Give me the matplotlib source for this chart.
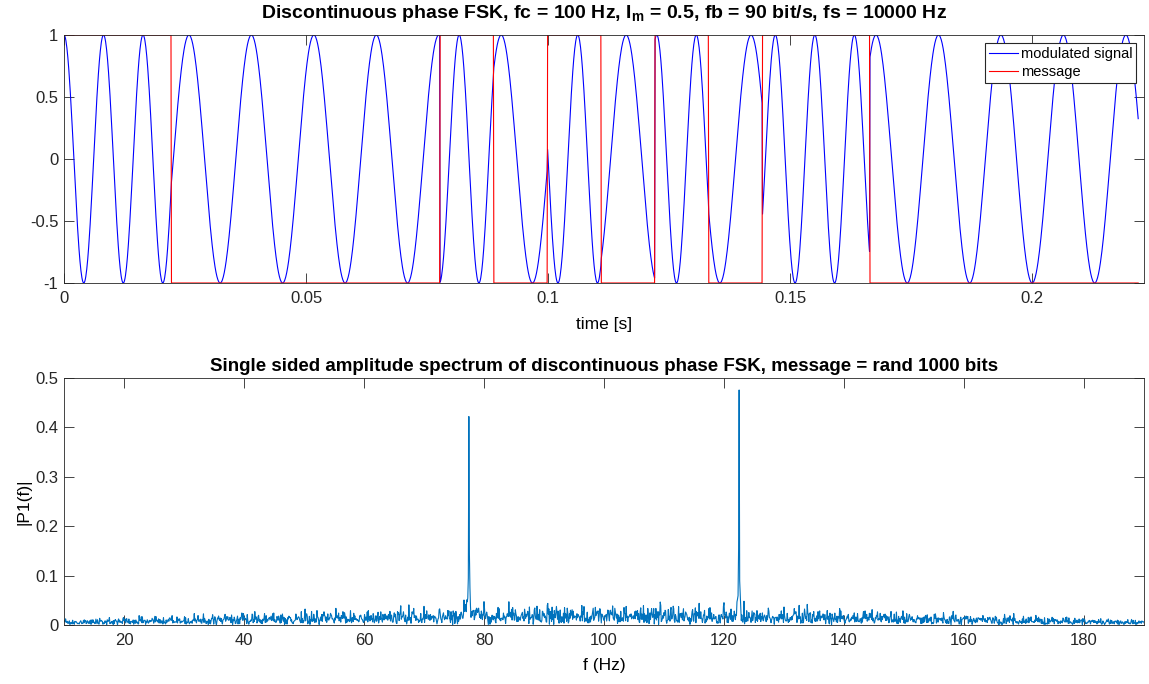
import numpy as np
import matplotlib
matplotlib.use('Agg')
import matplotlib.pyplot as plt
from matplotlib.ticker import FuncFormatter

# parameters read from the titles
fc = 100
Im = 0.5
fb = 90
fs = 10000
n_bits = 1000
spb = 111  # samples per bit

# first 20 bits of the message (visible in the top plot)
shown_bits = [1, 1, 0, 0, 0, 0, 0, 1, 0, 1, 0, 1, 0, 1, 1, 0, 0, 0, 0, 0]

# the rest of the 1000 bit message: a 16 bit lfsr pattern (deterministic),
# seed picked so the two spectrum peaks come out at ~0.42 and ~0.475
lfsr_seed = 334

def lfsr_bits(n, state):
    out = []
    for i in range(n):
        bit = ((state >> 0) ^ (state >> 2) ^ (state >> 3) ^ (state >> 5)) & 1
        state = (state >> 1) | (bit << 15)
        out.append(state & 1)
    return out

message = np.array(shown_bits + lfsr_bits(n_bits - len(shown_bits), lfsr_seed))

df = Im * fb / 2
f_hi = fc + df
f_lo = fc - df

# discontinuous phase fsk, every bit uses the absolute time
L = n_bits * spb
n = np.arange(L)
t = n / fs
m = message[n // spb]
freq = np.where(m == 1, f_hi, f_lo)
x = np.cos(2 * np.pi * freq * t)

# single sided amplitude spectrum
Y = np.fft.fft(x)
P2 = np.abs(Y / L)
P1 = P2[:L // 2 + 1].copy()
P1[1:-1] = 2 * P1[1:-1]
f = fs * np.arange(L // 2 + 1) / L

plt.rcParams['font.family'] = ['Liberation Sans', 'DejaVu Sans']
plt.rcParams['mathtext.fontset'] = 'custom'
plt.rcParams['mathtext.rm'] = 'Liberation Sans'
plt.rcParams['mathtext.bf'] = 'Liberation Sans:bold'

fig = plt.figure(figsize=(11.49, 6.84), dpi=100)
ax1 = fig.add_axes([64 / 1149, 1 - 283 / 684, 1080 / 1149, 248 / 684])
ax2 = fig.add_axes([64 / 1149, 1 - 625 / 684, 1080 / 1149, 247 / 684])

plain = FuncFormatter(lambda v, p: ('%g' % v).replace('\u2212', '-'))

n_show = n < len(shown_bits) * spb
ax1.plot(t[n_show], x[n_show], color='blue', lw=0.8, label='modulated signal')
ax1.plot(t[n_show], 2 * m[n_show] - 1, color='red', lw=0.8, label='message')
ax1.set_xlim(0, 0.2231)
ax1.set_ylim(-1, 1)
ax1.set_xticks([0, 0.05, 0.1, 0.15, 0.2])
ax1.set_yticks([-1, -0.5, 0, 0.5, 1])
ax1.set_xlabel('time [s]', fontsize=12.5, labelpad=8)
ax1.set_title(r'Discontinuous phase FSK, fc = 100 Hz, I$_{\mathbf{m}}$ = 0.5, fb = 90 bit/s, fs = 10000 Hz',
              fontsize=14, fontweight='bold', pad=12)
leg = ax1.legend(loc='upper right', fontsize=10.5, fancybox=False, framealpha=1,
                 edgecolor='#262626', borderaxespad=0.55, handlelength=2.0,
                 borderpad=0.25, labelspacing=0.3, handletextpad=0.2)
leg.get_frame().set_linewidth(0.8)

ax2.plot(f, P1, color='#0072BD', lw=0.8)
ax2.set_xlim(10, 190)
ax2.set_ylim(0, 0.5)
ax2.set_xticks(np.arange(20, 181, 20))
ax2.set_yticks(np.arange(0, 0.51, 0.1))
ax2.set_xlabel('f (Hz)', fontsize=12.5, labelpad=7)
ax2.set_ylabel('|P1(f)|', fontsize=12.5, labelpad=3)
ax2.set_title('Single sided amplitude spectrum of discontinuous phase FSK, message = rand 1000 bits',
              fontsize=13.5, fontweight='bold', pad=5)

for ax in (ax1, ax2):
    ax.xaxis.set_major_formatter(plain)
    ax.yaxis.set_major_formatter(plain)
    ax.tick_params(direction='in', top=True, right=True, length=7, width=0.6,
                   labelsize=12, colors='#262626', labelcolor='#262626', pad=4)
    ax.tick_params(axis='x', pad=6)
    for s in ax.spines.values():
        s.set_linewidth(0.6)
        s.set_color('#262626')

fig.savefig('out.png', dpi=100)
